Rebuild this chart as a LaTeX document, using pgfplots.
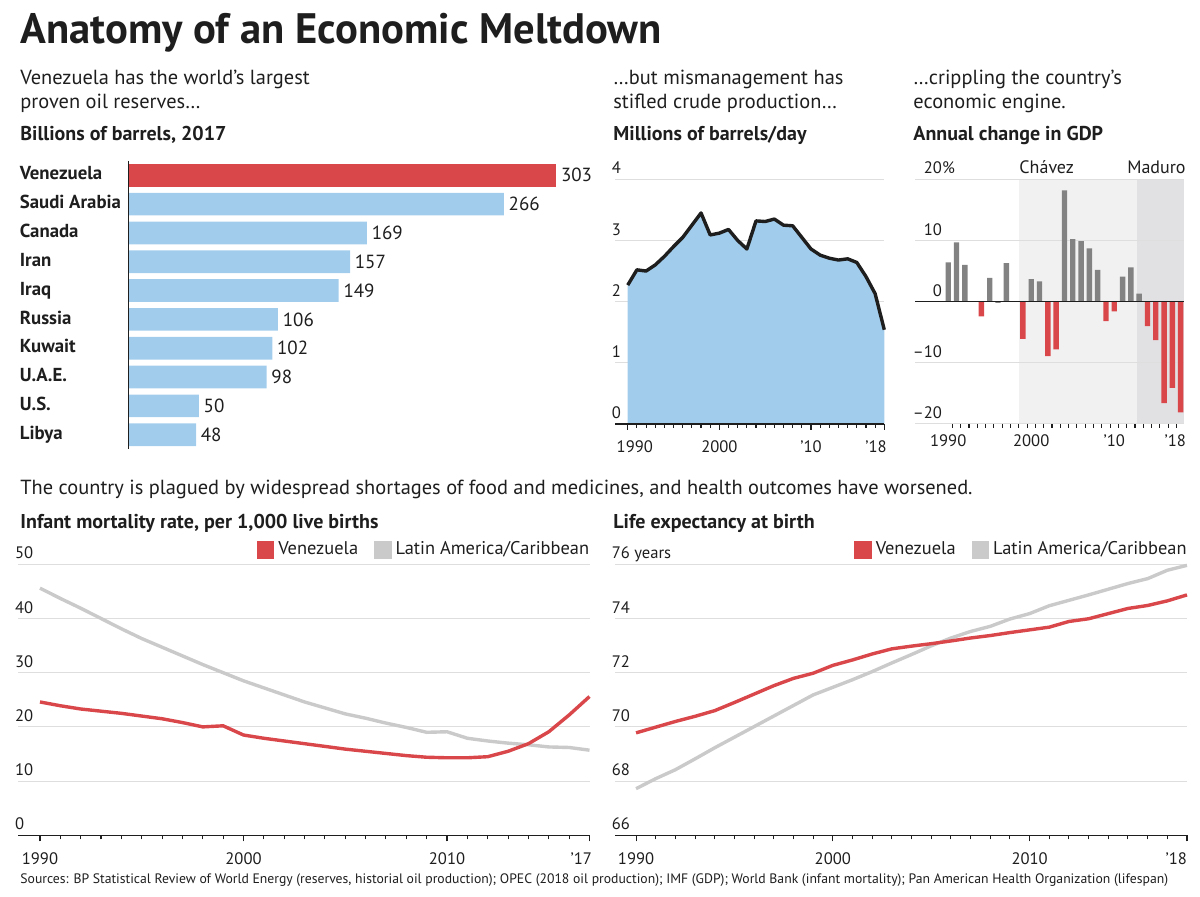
\documentclass[border=0pt]{standalone}
\usepackage{fontspec}
\setmainfont{PT Sans}
\usepackage{pgfplots}
\pgfplotsset{compat=1.18}

\definecolor{wsjred}{RGB}{217,71,75}
\definecolor{wsjblue}{RGB}{162,204,235}
\definecolor{bargray}{RGB}{130,130,130}
\definecolor{linegray}{RGB}{202,202,202}
\definecolor{gridgray}{RGB}{222,222,222}
\definecolor{chavez}{RGB}{241,241,242}
\definecolor{maduro}{RGB}{225,225,227}
\definecolor{ink}{RGB}{30,30,30}

\newcommand\tickfont{\fontsize{8.3}{9}\selectfont}
\newcommand\bodyfont{\fontsize{10.2}{12}\selectfont}
\newcommand\legfont{\fontsize{9.2}{11}\selectfont}
\newcommand\headfont{\fontsize{10}{12}\selectfont\bfseries}
\newcommand\barfont{\fontsize{9.4}{11}\selectfont\bfseries}
\newcommand\valfont{\fontsize{9.5}{11}\selectfont}

\pgfplotsset{
  wsj/.style={
    anchor=south west, scale only axis, clip=false,
    axis lines*=left, axis line style={draw=none},
    ymajorgrids, grid style={gridgray, line width=0.5pt},
    tick align=outside,
    ytick style={draw=none},
    xtick style={ink, line width=0.55pt},
    major tick length=3pt, minor tick length=2pt,
    tick label style={font=\tickfont, text=ink},
    /pgf/number format/assume math mode=true,
    yticklabel style={anchor=base west, inner sep=0pt, xshift=1.2pt, yshift=2.7pt},
    xticklabel style={anchor=base, inner sep=0pt, yshift=-11.4pt},
  },
  sqlegend/.style={
    legend image code/.code={\fill[##1] (0pt,-3.5pt) rectangle (7pt,3.5pt);},
    legend style={at={(1,1)}, anchor=south east, draw=none, fill=none,
      inner sep=0pt, yshift=1pt, xshift=2pt, font=\legfont, text=ink,
      legend columns=2, /tikz/every even column/.append style={column sep=6pt}},
  },
}

\begin{document}
\begin{tikzpicture}[x=0.5pt, y=0.5pt]
\useasboundingbox (0,0) rectangle (1200,897);

% texts
\node[anchor=base west, inner sep=0pt, text=ink, font=\fontsize{21.3}{25}\selectfont\bfseries] at (20,853.7) {Anatomy of an Economic Meltdown};
\node[anchor=base west, inner sep=0pt, text=ink, font=\bodyfont] at (20,812.7) {Venezuela has the world’s largest};
\node[anchor=base west, inner sep=0pt, text=ink, font=\bodyfont] at (20,788.3) {proven oil reserves…};
\node[anchor=base west, inner sep=0pt, text=ink, font=\headfont] at (20,756.3) {Billions of barrels, 2017};
\node[anchor=base west, inner sep=0pt, text=ink, font=\bodyfont] at (613,812.7) {…but mismanagement has};
\node[anchor=base west, inner sep=0pt, text=ink, font=\bodyfont] at (613,788.3) {stifled crude production…};
\node[anchor=base west, inner sep=0pt, text=ink, font=\headfont] at (613,756.3) {Millions of barrels/day};
\node[anchor=base west, inner sep=0pt, text=ink, font=\bodyfont] at (913,812.7) {…crippling the country’s};
\node[anchor=base west, inner sep=0pt, text=ink, font=\bodyfont] at (913,788.3) {economic engine.};
\node[anchor=base west, inner sep=0pt, text=ink, font=\headfont] at (913,756.3) {Annual change in GDP};
\node[anchor=base west, inner sep=0pt, text=ink, font=\bodyfont] at (20,402) {The country is plagued by widespread shortages of food and medicines, and health outcomes have worsened.};
\node[anchor=base west, inner sep=0pt, text=ink, font=\headfont] at (20,368.7) {Infant mortality rate, per 1,000 live births};
\node[anchor=base west, inner sep=0pt, text=ink, font=\headfont] at (613,368.7) {Life expectancy at birth};
\node[anchor=base west, inner sep=0pt, text=ink, font=\fontsize{6.85}{8}\selectfont] at (20,13) {Sources: BP Statistical Review of World Energy (reserves, historial oil production); OPEC (2018 oil production); IMF (GDP); World Bank (infant mortality); Pan American Health Organization (lifespan)};

\coordinate (A1) at (128.3,447.9);
\coordinate (A2) at (615,473);
\coordinate (A3) at (915,473);
\coordinate (A4) at (18.2,61.7);
\coordinate (A5) at (615,61.7);

% oil reserves
\begin{axis}[at={(A1)}, anchor=south west, scale only axis, clip=false,
  width=213.95pt, height=144.1pt,
  xbar, bar width=11.35pt, bar shift=0pt,
  xmin=0, xmax=303, ymin=-0.5, ymax=9.5, y dir=reverse,
  hide x axis, axis y line*=left, y axis line style={draw=none},
  ytick={0,...,9},
  yticklabels={Venezuela,Saudi Arabia,Canada,Iran,Iraq,Russia,Kuwait,U.A.E.,U.S.,Libya},
  ytick style={draw=none},
  yticklabel style={anchor=base west, inner sep=0pt, xshift=-50.15pt, yshift=-2.35pt, font=\barfont, text=ink},
  point meta=x, nodes near coords,
  /pgf/number format/assume math mode=true,
  every node near coord/.append style={anchor=west, inner sep=0pt, xshift=2.2pt, font=\valfont, text=ink},
]
\addplot[fill=wsjred, draw=none] coordinates {(303,0)};
\addplot[fill=wsjblue, draw=none] coordinates {
  (266,1) (169,2) (157,3) (149,4) (106,5) (102,6) (98,7) (50,8) (48,9)};
\draw[ink, line width=0.6pt] (axis cs:0,-0.5) -- (axis cs:0,9.5);
\end{axis}

% oil production
\begin{axis}[wsj, at={(A2)}, width=134.65pt, height=122.35pt,
  xmin=1988.61, xmax=2018, ymin=0, ymax=4,
  ytick={0,1,2,3,4}, yticklabels={0,1,2,3,4},
  xtick={1990,2000,2010,2018},
  xticklabels={\makebox[0pt][l]{\kern-5.5pt 1990},2000,’10,\makebox[0pt][r]{’18\kern-1.2pt}},
  minor xtick={1991,...,2017},
]
\addplot[fill=wsjblue, draw=none] coordinates {
  (1990,2.27) (1991,2.52) (1992,2.50) (1993,2.60) (1994,2.74) (1995,2.90)
  (1996,3.05) (1997,3.25) (1998,3.45) (1999,3.09) (2000,3.12) (2001,3.18)
  (2002,3.00) (2003,2.86) (2004,3.32) (2005,3.31) (2006,3.35) (2007,3.25)
  (2008,3.24) (2009,3.05) (2010,2.86) (2011,2.76) (2012,2.71) (2013,2.68)
  (2014,2.70) (2015,2.64) (2016,2.41) (2017,2.13) (2018,1.54)} \closedcycle;
\addplot[ink, line width=1.7pt, line join=round] coordinates {
  (1990,2.27) (1991,2.52) (1992,2.50) (1993,2.60) (1994,2.74) (1995,2.90)
  (1996,3.05) (1997,3.25) (1998,3.45) (1999,3.09) (2000,3.12) (2001,3.18)
  (2002,3.00) (2003,2.86) (2004,3.32) (2005,3.31) (2006,3.35) (2007,3.25)
  (2008,3.24) (2009,3.05) (2010,2.86) (2011,2.76) (2012,2.71) (2013,2.68)
  (2014,2.70) (2015,2.64) (2016,2.41) (2017,2.13) (2018,1.54)};
\draw[ink, line width=0.6pt] (axis cs:1988.61,0) -- (axis cs:2018,0);
\end{axis}

% GDP
\begin{axis}[wsj, at={(A3)}, width=134.5pt, height=122.35pt,
  xmin=1986, xmax=2018.4, ymin=-20, ymax=20,
  ytick={-20,-10,0,10,20}, yticklabels={–20,–10,0,10,20\rlap{\%}},
  yticklabel style={anchor=base east, xshift=12.5pt},
  xtick={1990,2000,2010,2018},
  xticklabels={1990,2000,’10,\makebox[0pt][r]{’18\kern-2.6pt}},
  major tick length=0pt,
  minor xtick={1990.5,1991.5,...,2017.5},
]
\fill[chavez] (axis cs:1998.57,-20) rectangle (axis cs:2012.71,20);
\fill[maduro] (axis cs:2012.71,-20) rectangle (axis cs:2018.4,20);
\draw[gridgray, line width=0.5pt] (axis cs:1998.57,-20) -- (axis cs:2018.4,-20)
  (axis cs:1998.57,-10) -- (axis cs:2018.4,-10)
  (axis cs:1998.57,10) -- (axis cs:2018.4,10)
  (axis cs:1998.57,20) -- (axis cs:2018.4,20);
\addplot[ybar, bar width=2.7pt, bar shift=0pt, fill=bargray, draw=none] coordinates {
  (1990,6.4) (1991,9.7) (1992,6.0) (1995,3.9) (1996,-0.2) (1997,6.3)
  (2000,3.7) (2001,3.3) (2004,18.2) (2005,10.2) (2006,9.9) (2007,8.7)
  (2008,5.2) (2011,4.1) (2012,5.6) (2013,1.3)};
\addplot[ybar, bar width=2.7pt, bar shift=0pt, fill=wsjred, draw=none] coordinates {
  (1994,-2.4) (1999,-6.1) (2002,-8.9) (2003,-7.8) (2009,-3.2) (2010,-1.6)
  (2014,-4.0) (2015,-6.3) (2016,-16.6) (2017,-14.1) (2018,-18.1)};
\draw[ink, line width=0.6pt] (axis cs:1986,0) -- (axis cs:2018.4,0);
\end{axis}
\node[anchor=base, inner sep=0pt, text=ink, font=\fontsize{9}{10}\selectfont] at (1046.7,723.7) {Chávez};
\node[anchor=base east, inner sep=0pt, text=ink, font=\fontsize{9}{10}\selectfont] at (1186,723.7) {Maduro};

% infant mortality
\begin{axis}[wsj, sqlegend, at={(A4)}, width=285.65pt, height=135.5pt,
  xmin=1988.93, xmax=2017, ymin=0, ymax=50,
  ytick={0,10,20,30,40,50}, yticklabels={0,10,20,30,40,50},
  xtick={1990,2000,2010,2017},
  xticklabels={1990,2000,2010,\makebox[0pt][r]{’17\kern-1.2pt}},
  minor xtick={1991,...,2016},
]
\addplot[color=linegray, line width=1.7pt, forget plot] coordinates {
  (1990,45.6) (1991,43.7) (1992,41.9) (1993,40.0) (1994,38.1) (1995,36.3)
  (1996,34.7) (1997,33.1) (1998,31.5) (1999,30.0) (2000,28.5) (2001,27.2)
  (2002,25.9) (2003,24.6) (2004,23.5) (2005,22.4) (2006,21.6) (2007,20.7)
  (2008,19.9) (2009,19.0) (2010,19.1) (2011,17.9) (2012,17.4) (2013,17.0)
  (2014,16.7) (2015,16.3) (2016,16.2) (2017,15.7)};
\addplot[color=wsjred, line width=1.7pt] coordinates {
  (1990,24.6) (1991,23.9) (1992,23.3) (1993,22.9) (1994,22.5) (1995,22.0)
  (1996,21.5) (1997,20.8) (1998,20.0) (1999,20.2) (2000,18.5) (2001,17.9)
  (2002,17.4) (2003,16.9) (2004,16.4) (2005,15.9) (2006,15.5) (2007,15.1)
  (2008,14.7) (2009,14.4) (2010,14.3) (2011,14.3) (2012,14.5) (2013,15.5)
  (2014,16.9) (2015,19.1) (2016,22.2) (2017,25.6)};
\addlegendentry{Venezuela}
\addlegendimage{color=linegray, line width=1.7pt}
\addlegendentry{Latin America/Caribbean}
\draw[ink, line width=0.6pt] (axis cs:1988.93,0) -- (axis cs:2017,0);
\end{axis}

% life expectancy
\begin{axis}[wsj, sqlegend, at={(A5)}, width=286pt, height=135.5pt,
  xmin=1988.93, xmax=2018, ymin=66, ymax=76,
  ytick={66,68,70,72,74,76}, yticklabels={66,68,70,72,74,76 years},
  xtick={1990,2000,2010,2018},
  xticklabels={1990,2000,2010,\makebox[0pt][r]{’18}},
  minor xtick={1991,...,2017},
]
\addplot[color=linegray, line width=1.7pt, forget plot] coordinates {
  (1990,67.72) (1991,68.09) (1992,68.42) (1993,68.82) (1994,69.23) (1995,69.62)
  (1996,70.01) (1997,70.40) (1998,70.79) (1999,71.18) (2000,71.46) (2001,71.74)
  (2002,72.04) (2003,72.36) (2004,72.67) (2005,72.99) (2006,73.28) (2007,73.52)
  (2008,73.71) (2009,73.98) (2010,74.18) (2011,74.47) (2012,74.67) (2013,74.87)
  (2014,75.08) (2015,75.29) (2016,75.47) (2017,75.78) (2018,75.96)};
\addplot[color=wsjred, line width=1.7pt] coordinates {
  (1990,69.78) (1991,69.99) (1992,70.20) (1993,70.39) (1994,70.60) (1995,70.90)
  (1996,71.21) (1997,71.52) (1998,71.79) (1999,71.98) (2000,72.27) (2001,72.47)
  (2002,72.69) (2003,72.88) (2004,72.98) (2005,73.07) (2006,73.17) (2007,73.28)
  (2008,73.37) (2009,73.48) (2010,73.58) (2011,73.68) (2012,73.89) (2013,73.99)
  (2014,74.18) (2015,74.37) (2016,74.48) (2017,74.65) (2018,74.87)};
\addlegendentry{Venezuela}
\addlegendimage{color=linegray, line width=1.7pt}
\addlegendentry{Latin America/Caribbean}
\draw[ink, line width=0.6pt] (axis cs:1988.93,66) -- (axis cs:2018,66);
\end{axis}
\end{tikzpicture}
\end{document}
